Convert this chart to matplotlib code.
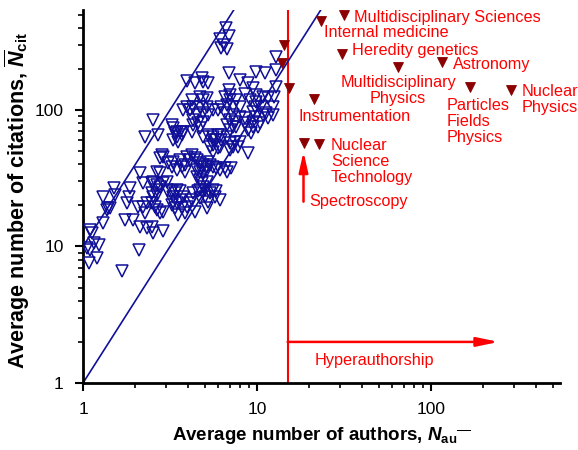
import numpy as np
import matplotlib
matplotlib.use("Agg")
import matplotlib.pyplot as plt

plt.rcParams['font.family'] = ['Liberation Sans', 'DejaVu Sans']
plt.rcParams['mathtext.fontset'] = 'custom'
plt.rcParams['mathtext.it'] = 'Liberation Sans:italic:bold'
plt.rcParams['mathtext.rm'] = 'Liberation Sans:bold'
plt.rcParams['mathtext.bf'] = 'Liberation Sans:bold'

# --- blue open triangles: ordinary fields (N_au, N_cit) ---
field_authors = [
    6.62, 6.92, 6.11, 6.44, 6.68, 6.25,
    12.8, 12.9, 9.91, 11.1, 6.92,
    3.94, 4.40, 4.80, 4.91, 5.24, 7.96, 8.88, 9.49, 12.9,
    6.88, 6.98, 6.53, 8.50, 9.08, 9.91, 10.8, 11.6, 12.6, 9.91, 9.70, 10.6, 12.4,
    11.3, 10.8, 11.6, 12.4, 9.49, 9.91, 10.4, 9.49, 10.1, 8.88, 9.28, 9.49,
    4.21, 4.70, 4.91, 5.13, 3.94, 4.30, 4.70, 5.13, 5.60, 4.91, 4.50, 5.24, 4.12,
    3.77, 5.98, 6.25, 6.68, 7.29, 7.96, 6.98, 7.62, 6.53, 7.29, 7.96, 8.50, 7.45,
    6.98, 7.29, 6.98, 7.62, 6.68, 8.50,
    2.54, 2.27, 2.71,
    3.23, 3.30, 3.45, 3.61, 3.77, 3.69, 3.45, 3.38, 3.53, 3.30, 4.30, 4.59, 4.91,
    4.30, 4.70, 4.21, 4.91, 5.24, 5.60, 5.98, 6.25, 5.85, 6.25, 6.68, 5.60, 6.98,
    7.29, 7.79, 7.96, 7.45, 8.88, 6.98, 5.60, 6.11, 5.98, 5.60, 5.36,
    2.90, 2.77, 2.83, 3.09, 3.30, 3.23, 3.61, 3.69, 3.85, 3.45, 3.85, 4.21, 4.40,
    4.50, 3.94, 4.12, 4.70, 4.80, 4.91, 5.13, 4.50, 4.70, 4.91, 5.13, 5.24, 5.36,
    5.60, 5.85, 6.11, 6.53, 7.13, 6.68, 4.50, 4.70, 4.80, 4.91, 4.70, 5.13,
    2.13, 2.65, 2.77, 2.22, 2.48, 2.54, 2.65, 2.77, 2.90, 3.03, 2.65, 2.48, 2.54,
    2.65, 3.03, 3.23, 3.38, 3.30, 3.45, 3.61, 3.77, 3.61, 3.45, 3.30, 3.23, 3.38,
    3.69, 3.94, 3.85, 3.53, 4.30, 4.59, 4.70, 5.01, 5.01, 5.36, 5.60, 5.85, 5.72,
    6.11, 5.24, 5.13, 4.21, 4.40, 4.12,
    1.50, 1.87, 1.83, 1.53, 1.40, 1.31, 1.79, 2.08, 2.22, 2.32, 2.48, 2.59, 2.65,
    2.77, 2.90, 2.27, 1.95, 2.13, 2.32, 2.48, 2.54, 2.90, 1.75, 1.37, 1.43, 1.31,
    1.10, 1.13, 1.05, 1.10, 1.23, 1.08, 1.20, 1.15, 2.11, 1.67,
]
field_citations = [
    396, 348, 329, 299, 278, 283,
    243, 196, 191, 188, 188,
    163, 157, 171, 161, 157, 166, 157, 144, 147,
    140, 129, 125, 132, 118, 129, 125, 122, 125, 115, 106, 106, 106,
    94.6, 91.9, 86.9, 91.9, 97.2, 89.4, 79.9, 75.5, 75.5, 71.4, 67.5, 82.2,
    118, 125, 118, 122, 106, 106, 106, 106, 100, 94.6, 91.9, 91.9, 100,
    100, 100, 106, 109, 106, 106, 118, 118, 94.6, 91.9, 89.4, 86.9, 82.2,
    84.5, 75.5, 71.4, 75.5, 77.7, 79.9,
    84.5, 63.8, 65.6,
    77.7, 73.4, 69.4, 69.4, 69.4, 65.6, 63.8, 67.5, 58.6, 60.3, 84.5, 79.9, 82.2,
    77.7, 73.4, 69.4, 63.8, 65.6, 63.8, 65.6, 65.6, 60.3, 60.3, 63.8, 60.3, 57.0,
    53.9, 53.9, 58.6, 58.6, 48.2, 51.0, 55.4, 53.9, 52.4, 49.6, 53.9,
    45.6, 44.3, 46.9, 40.7, 41.9, 38.5, 43.1, 38.5, 39.6, 36.4, 35.4, 46.9, 44.3,
    43.1, 45.6, 43.1, 40.7, 38.5, 39.6, 38.5, 36.4, 35.4, 34.4, 36.4, 41.9, 39.6,
    38.5, 37.4, 36.4, 37.4, 37.4, 35.4, 32.5, 30.7, 29.1, 27.5, 26.0, 29.9,
    34.4, 35.4, 34.4, 29.1, 29.1, 29.9, 28.3, 27.5, 29.1, 29.9, 26.0, 24.6, 23.2,
    23.9, 26.0, 25.3, 24.6, 23.2, 26.0, 25.3, 23.2, 21.9, 20.7, 21.3, 20.2, 19.1,
    19.1, 19.6, 17.5, 17.1, 24.6, 25.3, 22.6, 23.2, 26.0, 24.6, 26.0, 25.3, 23.2,
    21.9, 21.3, 19.1, 21.9, 18.0, 20.7,
    26.7, 26.7, 23.2, 23.9, 19.1, 23.2, 20.7, 19.6, 19.6, 20.7, 20.7, 19.6, 18.5,
    17.5, 18.0, 17.5, 15.7, 14.0, 13.6, 14.0, 12.5, 12.9, 15.7, 18.5, 19.1, 14.8,
    13.2, 12.5, 9.72, 9.45, 10.3, 7.55, 8.22, 10.6, 9.45, 6.56,
]

# --- dark red filled triangles: hyperauthorship fields ---
hyper_authors = [31.7, 23.3, 30.8, 64.6, 116, 168, 288, 21.3, 18.5, 22.7, 14.2, 13.9, 15.3]
hyper_citations = [497, 451, 256, 208, 224, 147, 140, 121, 57, 56, 299, 220, 144]

label_texts = ["Multidisciplinary Sciences", "Internal medicine", "Heredity genetics",
               "Astronomy", "Multidisciplinary\nPhysics", "Particles\nFields\nPhysics",
               "Nuclear\nPhysics", "Instrumentation", "Nuclear\nScience\nTechnology",
               "Spectroscopy"]
label_x = [36.1, 24.4, 35.3, 133, 64.6, 123, 330, 17.4, 26.6, 20.0]
label_y = [478, 371, 272, 214, 139, 82, 120, 89.3, 42, 21.3]
label_ha = ["left", "left", "left", "left", "center", "left", "left", "left", "left", "left"]

hyper_threshold = 15
line_x = [1, 30]

blue = '#10109a'
red = '#ff0000'
darkred = '#8b0000'

fig = plt.figure(figsize=(5.78, 4.5), dpi=100)
ax = fig.add_axes([83/578, 67/450, 477/578, 373/450])

ax.set_xscale('log')
ax.set_yscale('log')
ax.set_xlim(1, 551)
ax.set_ylim(1, 540)

lx = np.array(line_x, dtype=float)
ax.plot(lx, 10 * lx**2, color=blue, lw=1.2, zorder=2)
ax.plot(lx, lx**2, color=blue, lw=1.2, zorder=2)

ax.plot(field_authors, field_citations, linestyle='none', marker='v', markersize=8.5,
        markerfacecolor='none', markeredgecolor=blue, markeredgewidth=1.1, zorder=3)
ax.plot(hyper_authors, hyper_citations, linestyle='none', marker='v', markersize=7.5,
        markerfacecolor=darkred, markeredgecolor=darkred, markeredgewidth=0.6, zorder=4)

ax.axvline(hyper_threshold, color=red, lw=1.5, zorder=1)
ax.annotate('', xy=(245, 2.0), xytext=(hyper_threshold, 2.0),
            arrowprops=dict(arrowstyle='-|>,head_length=1.3,head_width=0.27',
                            color=red, lw=1.8, shrinkA=0, shrinkB=0))
ax.text(21.3, 1.47, 'Hyperauthorship', color=red, fontsize=11.7, ha='left', va='center')

for t, x, y, ha in zip(label_texts, label_x, label_y, label_ha):
    ax.text(x, y, t, color=red, fontsize=11.7, ha=ha, va='center',
            linespacing=1.1, multialignment=ha)

ax.annotate('', xy=(18.5, 49.5), xytext=(18.5, 21.3),
            arrowprops=dict(arrowstyle='-|>,head_length=1.2,head_width=0.27',
                            color=red, lw=1.8, shrinkA=0, shrinkB=0))

for s in ['top', 'right']:
    ax.spines[s].set_visible(False)
for s in ['left', 'bottom']:
    ax.spines[s].set_linewidth(2)

ax.tick_params(which='major', length=6, width=1.5, labelsize=12.5, direction='out')
ax.tick_params(axis='y', which='major', pad=8)
ax.tick_params(axis='x', which='major', pad=7.5)
ax.tick_params(which='minor', length=3.5, width=1.2, direction='out')
ax.xaxis.set_major_formatter(matplotlib.ticker.FuncFormatter(lambda v, p: f'{v:g}'))
ax.yaxis.set_major_formatter(matplotlib.ticker.FuncFormatter(lambda v, p: f'{v:g}'))
ax.xaxis.set_minor_formatter(matplotlib.ticker.NullFormatter())
ax.yaxis.set_minor_formatter(matplotlib.ticker.NullFormatter())
ax.xaxis.set_major_locator(matplotlib.ticker.FixedLocator([1, 10, 100]))
ax.yaxis.set_major_locator(matplotlib.ticker.FixedLocator([1, 10, 100]))

ax.set_xlabel(r'Average number of authors, $N_{\mathrm{au}}{}^{\overline{\quad}}$',
              fontsize=13.5, fontweight='bold')
ax.set_ylabel(r'Average number of citations, $\overline{N}_{\mathrm{cit}}$',
              fontsize=15.5, fontweight='bold')
ax.xaxis.set_label_coords(0.5, -0.112)
ax.yaxis.set_label_coords(-0.106, 0.49)

fig.savefig('out.png', dpi=100)
